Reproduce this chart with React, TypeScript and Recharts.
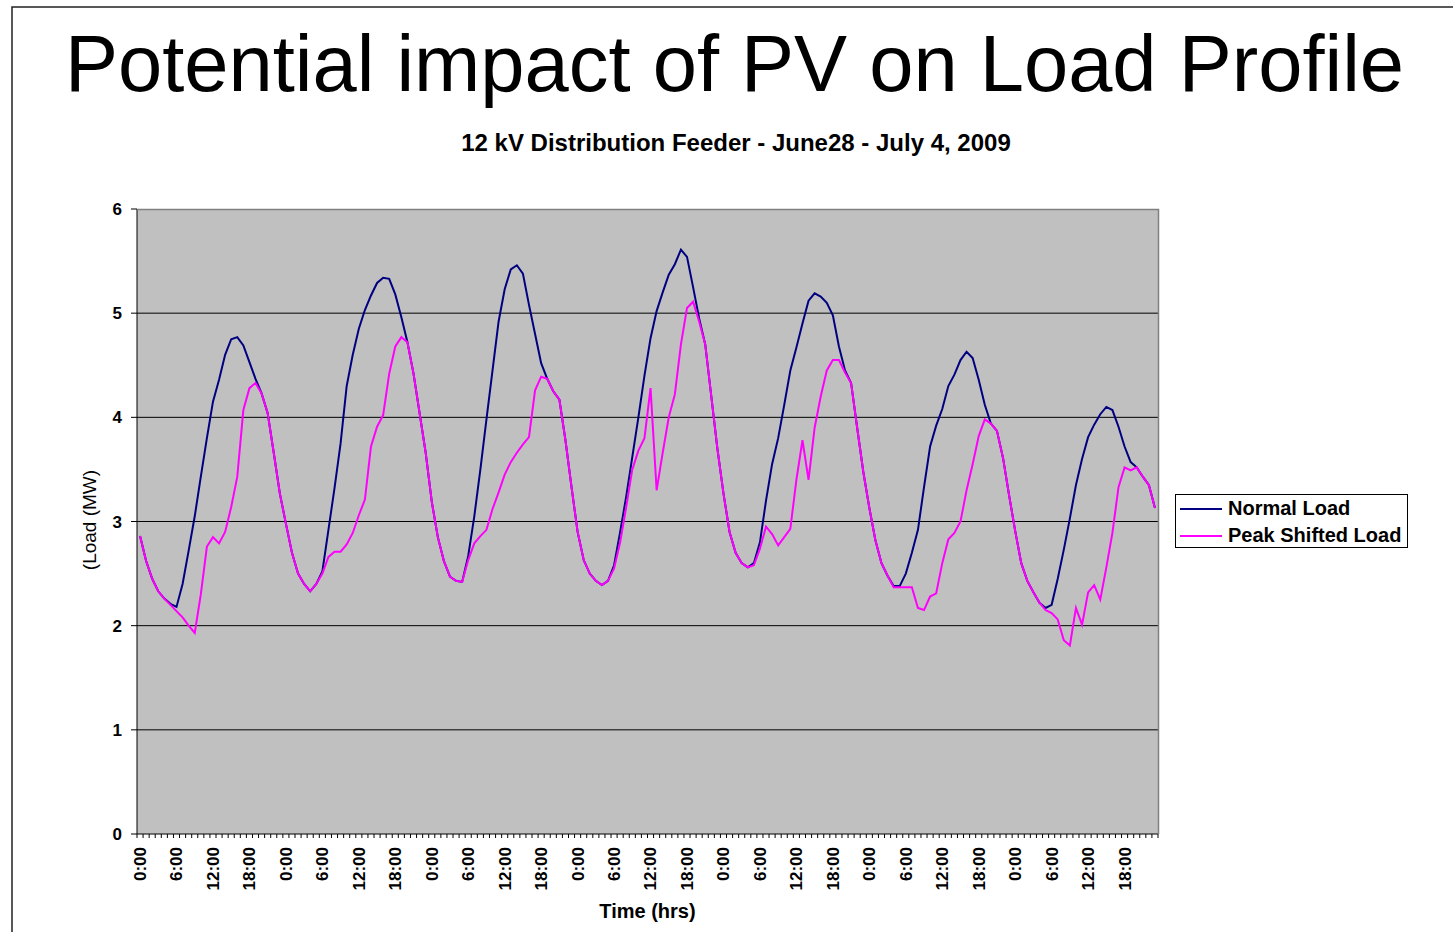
import React from "react"
import { CartesianGrid, Legend, Line, LineChart, XAxis, YAxis } from "recharts"

const FONT = "'Liberation Sans', Arial, Helvetica, sans-serif"

// one label per hour, June 28 0:00 through July 4 23:00
const hourLabels = Array.from({ length: 168 }, (_, i) => `${i % 24}:00`)

// MW, hourly, one row per day
const normalLoad = [
  2.86, 2.62, 2.45, 2.33, 2.26, 2.21, 2.18, 2.4, 2.72, 3.05, 3.43, 3.8, 4.15, 4.36, 4.6, 4.75, 4.77, 4.69, 4.53, 4.37, 4.23, 4.04, 3.66, 3.27,
  2.98, 2.7, 2.5, 2.4, 2.33, 2.4, 2.52, 2.92, 3.32, 3.75, 4.3, 4.6, 4.85, 5.03, 5.17, 5.29, 5.34, 5.33, 5.18, 4.96, 4.72, 4.42, 4.04, 3.66,
  3.19, 2.85, 2.62, 2.47, 2.43, 2.42, 2.67, 3.05, 3.5, 3.98, 4.45, 4.92, 5.23, 5.42, 5.46, 5.38, 5.08, 4.8, 4.52, 4.37, 4.25, 4.17, 3.78, 3.33,
  2.9, 2.63, 2.5, 2.43, 2.39, 2.43, 2.58, 2.9, 3.24, 3.62, 4.0, 4.4, 4.76, 5.02, 5.2, 5.37, 5.47, 5.61, 5.54, 5.25, 4.95, 4.7, 4.2, 3.7,
  3.27, 2.9, 2.7, 2.6, 2.56, 2.6, 2.8, 3.2, 3.55, 3.8, 4.12, 4.45, 4.67, 4.9, 5.12, 5.19, 5.16, 5.1, 4.98, 4.68, 4.45, 4.33, 3.9, 3.48,
  3.13, 2.82, 2.6, 2.48, 2.38, 2.38, 2.5, 2.7, 2.92, 3.33, 3.72, 3.92, 4.08, 4.3, 4.41, 4.55, 4.63, 4.57, 4.36, 4.12, 3.94, 3.87, 3.61, 3.25,
  2.91, 2.6, 2.43, 2.32, 2.22, 2.17, 2.2, 2.45, 2.73, 3.03, 3.35, 3.6, 3.81, 3.93, 4.03, 4.1, 4.07, 3.91, 3.72, 3.57, 3.52, 3.43, 3.35, 3.13,
]

const peakShiftedLoad = [
  2.86, 2.62, 2.45, 2.33, 2.26, 2.2, 2.14, 2.08, 2.0, 1.93, 2.3, 2.76, 2.85, 2.79, 2.9, 3.14, 3.43, 4.07, 4.28, 4.33, 4.23, 4.04, 3.66, 3.27,
  2.98, 2.7, 2.5, 2.4, 2.33, 2.4, 2.5, 2.66, 2.71, 2.71, 2.78, 2.89, 3.06, 3.21, 3.72, 3.91, 4.02, 4.42, 4.68, 4.77, 4.72, 4.42, 4.04, 3.66,
  3.19, 2.85, 2.62, 2.47, 2.43, 2.42, 2.63, 2.79, 2.86, 2.92, 3.12, 3.28, 3.45, 3.57, 3.66, 3.74, 3.81, 4.26, 4.39, 4.37, 4.25, 4.17, 3.78, 3.33,
  2.9, 2.63, 2.5, 2.43, 2.39, 2.43, 2.55, 2.8, 3.14, 3.5, 3.68, 3.8, 4.28, 3.3, 3.66, 4.0, 4.22, 4.7, 5.05, 5.11, 4.92, 4.7, 4.2, 3.7,
  3.27, 2.9, 2.7, 2.6, 2.56, 2.58, 2.74, 2.95, 2.88, 2.77, 2.85, 2.93, 3.4, 3.78, 3.4, 3.9, 4.2, 4.45, 4.55, 4.55, 4.43, 4.33, 3.9, 3.48,
  3.13, 2.82, 2.6, 2.48, 2.37, 2.37, 2.37, 2.37, 2.17, 2.15, 2.28, 2.31, 2.6, 2.83, 2.89, 3.0, 3.3, 3.55, 3.82, 3.98, 3.94, 3.87, 3.61, 3.25,
  2.91, 2.6, 2.43, 2.32, 2.22, 2.15, 2.12, 2.06, 1.86, 1.81, 2.17, 2.01, 2.32, 2.39, 2.25, 2.56, 2.89, 3.33, 3.52, 3.49, 3.52, 3.43, 3.35, 3.13,
]

const loadTicks = [0, 1, 2, 3, 4, 5, 6]
const gridValues = [1, 2, 3, 4, 5]

const data = hourLabels.map((time, i) => ({
  time,
  normal: normalLoad[i],
  shifted: peakShiftedLoad[i],
}))

const HALF_HOUR = 3.04

const TimeTick = (props: any) => {
  const { x, y, payload, index } = props
  const i = index ?? payload?.index ?? 0
  const ly = y + 13
  return (
    <g>
      <line x1={x - HALF_HOUR} x2={x - HALF_HOUR} y1={y} y2={y + 4} stroke="#000" />
      {i === hourLabels.length - 1 && (
        <line x1={x + HALF_HOUR} x2={x + HALF_HOUR} y1={y} y2={y + 4} stroke="#000" />
      )}
      {i % 6 === 0 && (
        <text
          x={x}
          y={ly}
          dy="0.35em"
          transform={`rotate(-90, ${x}, ${ly})`}
          textAnchor="end"
          fontSize={17}
          fontWeight="bold"
          fontFamily={FONT}
          fill="#000"
        >
          {payload.value}
        </text>
      )}
    </g>
  )
}

const LegendBox = (props: any) => {
  const items = props.payload || []
  return (
    <div
      style={{
        width: 233,
        height: 54,
        border: "1px solid #000",
        boxSizing: "border-box",
        background: "#fff",
        fontFamily: FONT,
      }}
    >
      {items.map((item: any) => (
        <div key={item.value} style={{ display: "flex", alignItems: "center", height: 27 }}>
          <svg width={48} height={10} style={{ marginLeft: 4 }}>
            <line x1={0} x2={42} y1={5} y2={5} stroke={item.color} strokeWidth={2} />
          </svg>
          <span style={{ fontSize: 20, fontWeight: "bold", color: "#000", lineHeight: "27px" }}>
            {item.value}
          </span>
        </div>
      ))}
    </div>
  )
}

export default function App() {
  return (
    <div
      style={{
        position: "absolute",
        left: 0,
        top: 0,
        width: 1453,
        height: 932,
        background: "#fff",
        fontFamily: FONT,
      }}
    >
      <LineChart
        width={1453}
        height={932}
        data={data}
        margin={{ top: 209, right: 295, bottom: 8, left: 77 }}
      >
        <CartesianGrid
          fill="#c0c0c0"
          stroke="#000"
          vertical={false}
          horizontalValues={gridValues}
        />
        <XAxis
          dataKey="time"
          interval={0}
          padding={{ left: HALF_HOUR, right: HALF_HOUR }}
          height={90}
          tickLine={false}
          tickSize={0}
          tickMargin={0}
          axisLine={{ stroke: "#000" }}
          tick={<TimeTick />}
          label={{
            value: "Time (hrs)",
            position: "insideBottom",
            offset: 6,
            fill: "#000",
            fontSize: 20,
            fontWeight: "bold",
            fontFamily: FONT,
          }}
        />
        <YAxis
          domain={[0, 6]}
          ticks={loadTicks}
          width={60}
          tickSize={6}
          tickMargin={9}
          axisLine={{ stroke: "#000" }}
          tickLine={{ stroke: "#000" }}
          tick={{ fill: "#000", fontSize: 17, fontWeight: "bold", fontFamily: FONT }}
        />
        <Line
          dataKey="normal"
          name="Normal Load"
          stroke="#000080"
          strokeWidth={2}
          dot={false}
          isAnimationActive={false}
        />
        <Line
          dataKey="shifted"
          name="Peak Shifted Load"
          stroke="#ff00ff"
          strokeWidth={2}
          dot={false}
          isAnimationActive={false}
        />
        <Legend
          layout="vertical"
          align="center"
          verticalAlign="middle"
          wrapperStyle={{ left: 1175, top: 494, width: 233, height: 54 }}
          content={<LegendBox />}
        />
      </LineChart>
      <svg
        width={1453}
        height={932}
        style={{ position: "absolute", left: 0, top: 0, pointerEvents: "none" }}
      >
        <path d="M12 932 V7 H1453" fill="none" stroke="#222" strokeWidth={1.5} />
        <path d="M137 209.5 H1158.5 V834" fill="none" stroke="#808080" strokeWidth={1.5} />
        <text x={734.5} y={91} textAnchor="middle" fontSize={79.5} fontFamily={FONT} fill="#000">
          Potential impact of PV on Load Profile
        </text>
        <text
          x={736}
          y={151}
          textAnchor="middle"
          fontSize={24}
          fontWeight="bold"
          fontFamily={FONT}
          fill="#000"
        >
          12 kV Distribution Feeder - June28 - July 4, 2009
        </text>
        <text
          x={96}
          y={520}
          transform="rotate(-90, 96, 520)"
          textAnchor="middle"
          fontSize={19}
          fontFamily={FONT}
          fill="#000"
        >
          (Load (MW)
        </text>
      </svg>
    </div>
  )
}
